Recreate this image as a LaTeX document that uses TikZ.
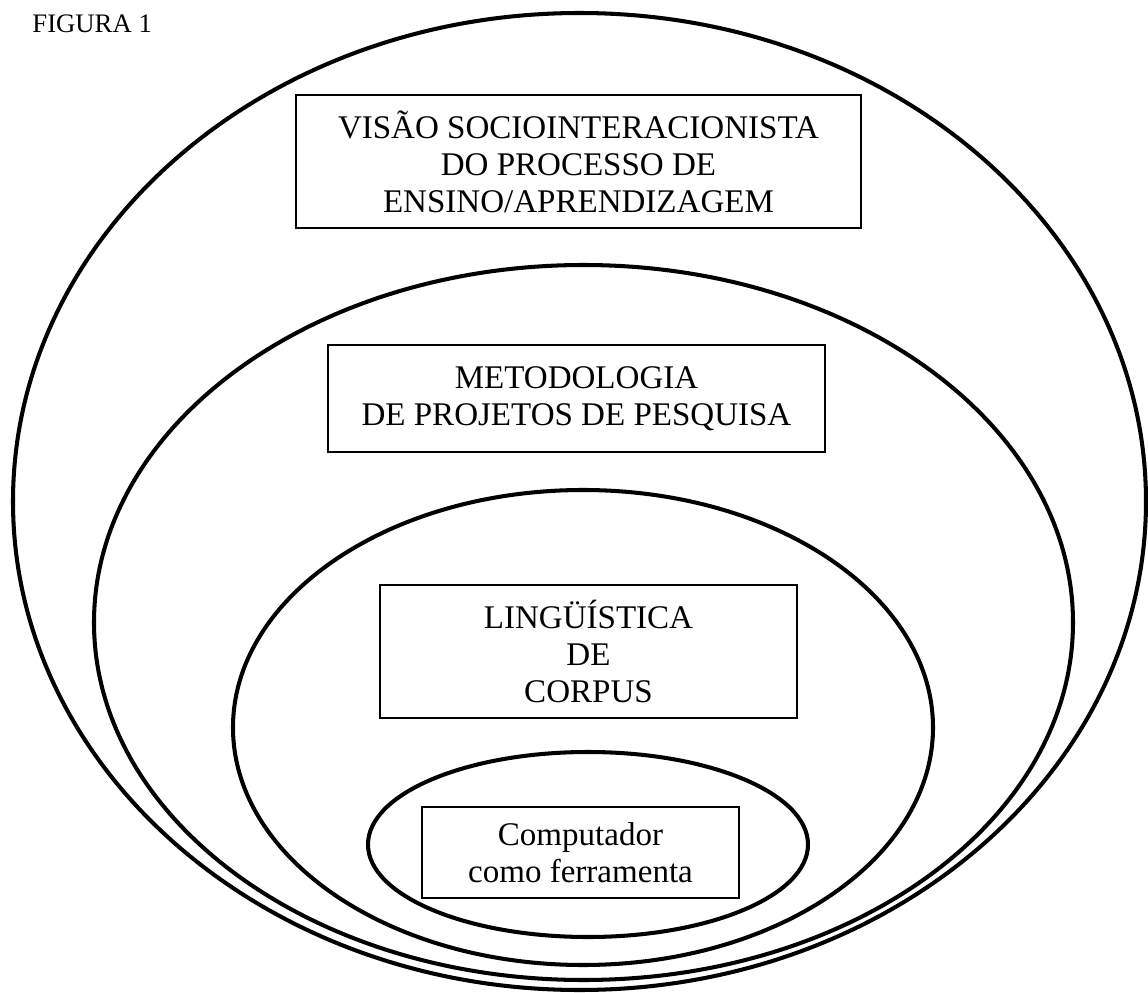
\documentclass[tikz,border=0pt]{standalone}
\usepackage{fontspec}
\setmainfont{Liberation Serif}
\begin{document}
\begin{tikzpicture}[ring/.style={line width=1.15pt},
  box/.style={draw, line width=0.55pt, align=center, inner sep=0pt, font=\fontsize{9.4}{10.5}\selectfont}]
\useasboundingbox (0,0) rectangle (11.48,-9.93);
\node[anchor=base west, font=\fontsize{7.6}{8}\selectfont] (fig) at (0.20,-0.32) {FIGURA 1};
\draw[ring] (5.795,-5.015) ellipse (5.665 and 4.885);
\node[box, minimum width=5.65cm, minimum height=1.33cm] (v) at (5.785,-1.615) {VISÃO SOCIOINTERACIONISTA\\DO PROCESSO DE\\ENSINO/APRENDIZAGEM};
\draw[ring] (5.835,-6.225) ellipse (4.895 and 3.575);
\node[box, minimum width=4.97cm, minimum height=1.07cm] (m) at (5.765,-3.985) {METODOLOGIA\\DE PROJETOS DE PESQUISA};
\draw[ring] (5.83,-7.275) ellipse (3.50 and 2.375);
\node[box, minimum width=4.17cm, minimum height=1.33cm] (l) at (5.885,-6.515) {LINGÜÍSTICA\\DE\\CORPUS};
\draw[ring] (5.88,-8.445) ellipse (2.20 and 0.925);
\node[box, minimum width=3.17cm, minimum height=0.91cm] (c) at (5.805,-8.525) {Computador\\como ferramenta};
\end{tikzpicture}
\end{document}
